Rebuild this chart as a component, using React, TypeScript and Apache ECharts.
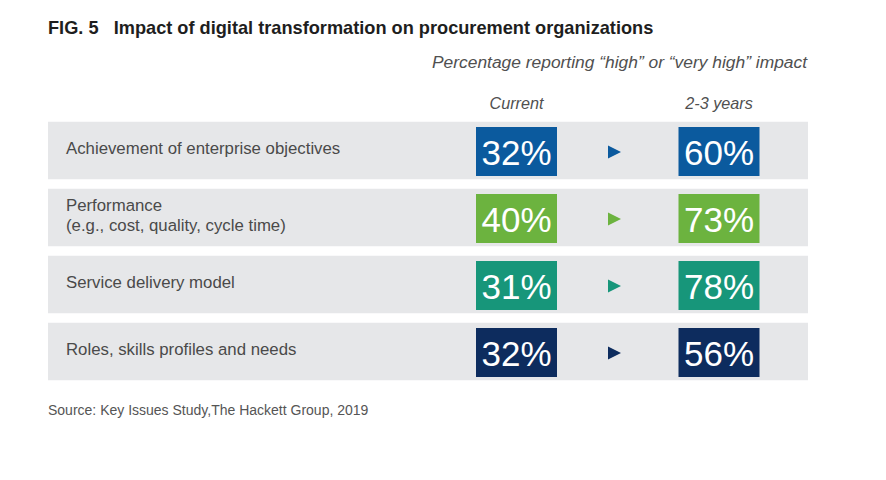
import React, { useEffect, useRef } from "react";
import * as echarts from "echarts";

const titleText = "FIG. 5   Impact of digital transformation on procurement organizations";
const subtitleText = "Percentage reporting \u201chigh\u201d or \u201cvery high\u201d impact";
const columnLabels = ["Current", "2-3 years"];
const categories = [
  "Achievement of enterprise objectives",
  "Performance\n(e.g., cost, quality, cycle time)",
  "Service delivery model",
  "Roles, skills profiles and needs",
];
const currentValues = [32, 40, 31, 32];
const futureValues = [60, 73, 78, 56];
const rowColors = ["#0b5a9e", "#6cb33f", "#17967a", "#0d2c5e"];
const sourceText = "Source: Key Issues Study,The Hackett Group, 2019";

const FONT = "'Liberation Sans', Arial, sans-serif";
const X_MAX = 760;
const CUR_X = 468.5;
const ARROW_X = 566;
const FUT_X = 671;

export default function App() {
  const ref = useRef<HTMLDivElement>(null);
  useEffect(() => {
    if (!ref.current) return;
    const chart = echarts.init(ref.current, null, { renderer: "svg" });
    const data = categories.map((c, i) => [i, currentValues[i], futureValues[i]]);
    chart.setOption({
      animation: false,
      backgroundColor: "#ffffff",
      title: [
        {
          text: titleText,
          left: 48,
          top: 19,
          padding: 0,
          textStyle: { fontFamily: FONT, fontSize: 18.2, fontWeight: "bold", color: "#1e1e1e" },
        },
        {
          text: subtitleText,
          right: 79,
          top: 53,
          padding: 0,
          textStyle: { fontFamily: FONT, fontSize: 17.4, fontStyle: "italic", fontWeight: "normal", color: "#505050" },
        },
        {
          text: columnLabels[0],
          left: 516.5,
          top: 95,
          padding: 0,
          textAlign: "center",
          textStyle: { fontFamily: FONT, fontSize: 16.2, fontStyle: "italic", fontWeight: "normal", color: "#505050" },
        },
        {
          text: columnLabels[1],
          left: 719,
          top: 95,
          padding: 0,
          textAlign: "center",
          textStyle: { fontFamily: FONT, fontSize: 16.2, fontStyle: "italic", fontWeight: "normal", color: "#505050" },
        },
        {
          text: sourceText,
          left: 48,
          top: 403,
          padding: 0,
          textStyle: { fontFamily: FONT, fontSize: 14, fontWeight: "normal", color: "#555555" },
        },
      ],
      grid: { left: 48, right: 78, top: 117, bottom: 95, containLabel: false },
      xAxis: { type: "value", min: 0, max: X_MAX, show: false },
      yAxis: { type: "category", data: categories, inverse: true, show: false },
      series: [
        {
          type: "custom",
          data,
          renderItem: (params: any, api: any) => {
            const idx = api.value(0);
            const cur = api.value(1);
            const fut = api.value(2);
            const [x0, yc] = api.coord([0, idx]);
            const x1 = api.coord([X_MAX, idx])[0];
            const band = api.size([0, 1])[1];
            const h = band - 9.5;
            const color = rowColors[idx];
            const bw = 81;
            const bh = 49;
            const cx = api.coord([CUR_X, idx])[0];
            const fx = api.coord([FUT_X, idx])[0];
            const ax = api.coord([ARROW_X, idx])[0];
            const box = (x: number, v: number) => [
              {
                type: "rect",
                shape: { x: x - bw / 2, y: yc - bh / 2 + 1, width: bw, height: bh },
                style: { fill: color },
              },
              {
                type: "text",
                style: {
                  text: v + "%",
                  x: x,
                  y: yc + 2,
                  align: "center",
                  verticalAlign: "middle",
                  fill: "#ffffff",
                  fontFamily: FONT,
                  fontSize: 35,
                },
              },
            ];
            return {
              type: "group",
              children: [
                {
                  type: "rect",
                  shape: { x: x0, y: yc - h / 2, width: x1 - x0, height: h },
                  style: { fill: "#e6e7e9" },
                },
                {
                  type: "text",
                  style: {
                    text: categories[idx],
                    x: x0 + 18,
                    y: yc - 2,
                    align: "left",
                    verticalAlign: "middle",
                    fill: "#4a4a4a",
                    fontFamily: FONT,
                    fontSize: 16.8,
                    lineHeight: 20,
                  },
                },
                ...box(cx, cur),
                {
                  type: "polygon",
                  shape: {
                    points: [
                      [ax - 6, yc - 5],
                      [ax + 7, yc + 1.5],
                      [ax - 6, yc + 8],
                    ],
                  },
                  style: { fill: color },
                },
                ...box(fx, fut),
              ],
            };
          },
        },
      ],
    });
    return () => chart.dispose();
  }, []);
  return <div ref={ref} style={{ position: "fixed", left: 0, top: 0, width: 886, height: 480 }} />;
}
